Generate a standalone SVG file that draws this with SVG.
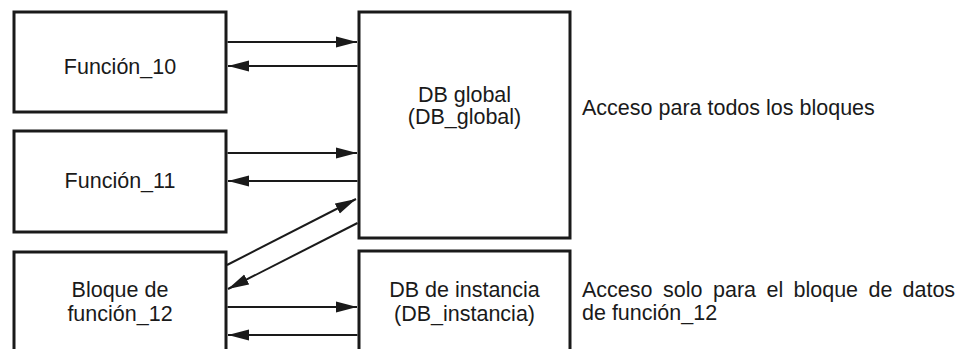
<svg xmlns="http://www.w3.org/2000/svg" width="963" height="349" viewBox="0 0 963 349">
<style>
.box{fill:#fff;stroke:#1a1a1a;stroke-width:3}
.t{font-family:"Liberation Sans",Arial,sans-serif;font-size:21.5px;fill:#1a1a1a}
.m{text-anchor:middle}
.c{stroke:#1a1a1a;stroke-width:2;fill:none;marker-end:url(#ah)}
</style>
<defs>
<marker id="ah" markerUnits="userSpaceOnUse" markerWidth="22" markerHeight="12" refX="21" refY="5.5" orient="auto" viewBox="0 0 22 11">
<path d="M0,0 L21,5.5 L0,11 Z" fill="#1a1a1a"/>
</marker>
</defs>
<rect width="963" height="349" fill="#fff"/>
<g id="f10"><rect class="box" x="14" y="12" width="212" height="100"/><text class="t m" x="120" y="74">Función_10</text></g>
<g id="f11"><rect class="box" x="14" y="131" width="212" height="101"/><text class="t m" x="120" y="188">Función_11</text></g>
<g id="f12"><rect class="box" x="14" y="252" width="212" height="110"/><text class="t m" x="120" y="297">Bloque de</text><text class="t m" x="120" y="321">función_12</text></g>
<g id="dbg"><rect class="box" x="359" y="12" width="211" height="226"/><text class="t m" x="464.5" y="102">DB global</text><text class="t m" x="464.5" y="124">(DB_global)</text></g>
<g id="dbi"><rect class="box" x="359" y="251" width="211" height="110"/><text class="t m" x="464.5" y="297">DB de instancia</text><text class="t m" x="464.5" y="321">(DB_instancia)</text></g>
<g id="labels">
<text class="t" x="582" y="115">Acceso para todos los bloques</text>
<text class="t" y="297"><tspan x="582">Acceso</tspan><tspan x="663">solo</tspan><tspan x="713">para</tspan><tspan x="766.5">el</tspan><tspan x="793.5">bloque</tspan><tspan x="868.5">de</tspan><tspan x="902.5">datos</tspan></text>
<text class="t" x="582" y="320">de función_12</text>
</g>
<g id="connectors">
<line class="c" x1="227.5" y1="42" x2="357" y2="42"/>
<line class="c" x1="357.5" y1="66" x2="228" y2="66"/>
<line class="c" x1="227.5" y1="153" x2="357" y2="153"/>
<line class="c" x1="357.5" y1="181" x2="228" y2="181"/>
<line class="c" x1="227" y1="265" x2="356" y2="199"/>
<line class="c" x1="357.5" y1="223" x2="228" y2="289"/>
<line class="c" x1="227.5" y1="307" x2="357" y2="307"/>
<line class="c" x1="357.5" y1="335" x2="228" y2="335"/>
</g>
</svg>
